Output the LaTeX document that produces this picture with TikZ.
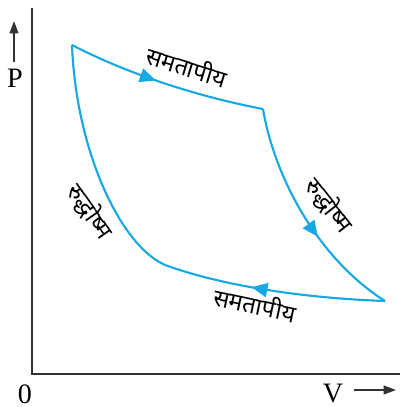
\documentclass[tikz,border=0pt]{standalone}
\usepackage{fontspec}
\setmainfont{Liberation Serif}
\newfontfamily\hindi[Script=Devanagari]{Noto Sans}
\usetikzlibrary{arrows.meta,decorations.markings}
\definecolor{cyc}{RGB}{20,168,228}
\definecolor{axc}{RGB}{50,50,50}
\tikzset{
  axis/.style={draw=axc,line width=0.9pt},
  curve/.style={draw=cyc,line width=1.2pt},
  midarrow/.style={postaction={decorate},decoration={markings,
     mark=at position #1 with {\arrow{Triangle[length=9pt,width=8pt]}}}},
  lbl/.style={font=\hindi\fontsize{13.5}{13.5}\selectfont,inner sep=0pt},
  axlbl/.style={font=\fontsize{16}{16}\selectfont,inner sep=0pt}
}
\begin{document}
\begin{tikzpicture}[x=0.02cm,y=-0.02cm]
\useasboundingbox (0,0) rectangle (400,407);
% axes
\coordinate (Otop) at (32,8);
\coordinate (O) at (32,374);
\coordinate (Xend) at (400,374);
\draw[axis] (Otop) -- (O) -- (Xend);
\node[axlbl] (P) at (15,78) {P};
\coordinate (Pa) at (14,62);
\coordinate (Pb) at (14,21);
\draw[axis,-{Triangle[length=7pt,width=5pt]}] (Pa) -- (Pb);
\node[axlbl] (zero) at (25,394) {0};
\node[axlbl] (V) at (333,394) {V};
\coordinate (Va) at (354,390);
\coordinate (Vb) at (396,390);
\draw[axis,-{Triangle[length=7pt,width=5pt]}] (Va) -- (Vb);
% cycle
\coordinate (A) at (72,45);
\coordinate (B) at (263,109);
\coordinate (C) at (385,301);
\coordinate (D) at (165,265);
\draw[curve,midarrow=0.45] (A) .. controls (130,75) and (200,97) .. (B);
\draw[curve,midarrow=0.6] (B) .. controls (275,180) and (320,260) .. (C);
\draw[curve,midarrow=0.6] (C) .. controls (300,298) and (220,285) .. (D);
\draw[curve] (D) .. controls (120,245) and (76,150) .. (A);
% labels
\node[lbl,rotate=-17] (l1) at (187,66) {समतापीय};
\node[lbl,rotate=-52] (l2) at (329,205) {रुद्धोष्म};
\node[lbl,rotate=-12] (l3) at (255,304) {समतापीय};
\node[lbl,rotate=-55] (l4) at (90,211) {रुद्धोष्म};
\end{tikzpicture}
\end{document}
